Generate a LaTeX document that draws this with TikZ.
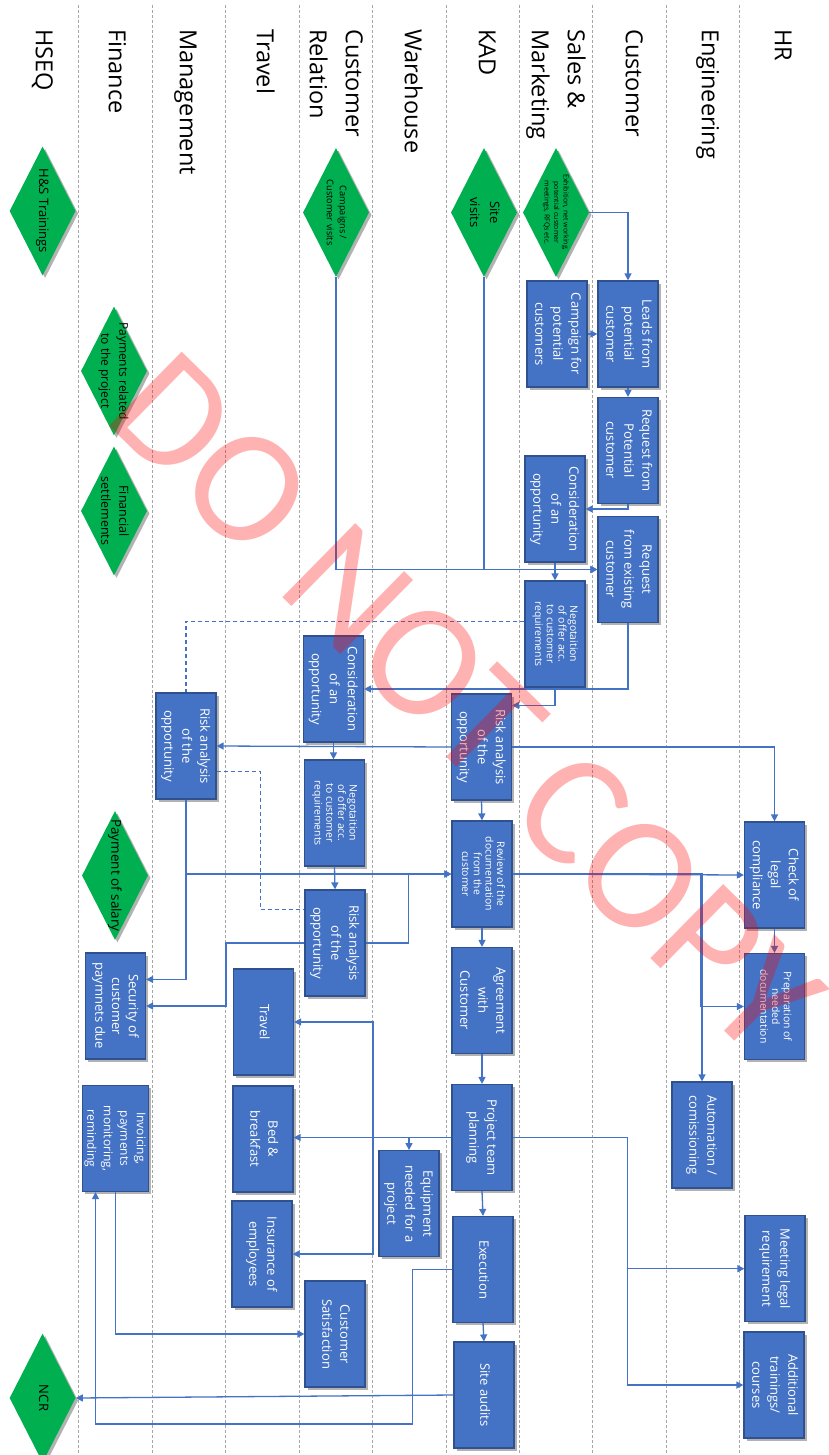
\documentclass[tikz,border=0pt]{standalone}
\usepackage{fontspec}
\setmainfont{Open Sans}
\newfontfamily\wmfont{Carlito}
\usepackage{graphicx}
\usetikzlibrary{shapes.geometric,arrows.meta,shadows,calc}
\definecolor{boxblue}{HTML}{4472C4}
\definecolor{boxedge}{HTML}{2F528F}
\definecolor{dgreen}{HTML}{00B050}
\definecolor{lanegray}{HTML}{A6A6A6}
\newcommand\vt[1]{\rotatebox{-90}{\begin{tabular}{@{}c@{}}#1\end{tabular}}}
\newcommand\vtl[1]{\rotatebox{-90}{\begin{tabular}{@{}l@{}}#1\end{tabular}}}
\begin{document}
\begin{tikzpicture}[x=1pt,y=-1pt,
  bx/.style={draw=boxedge, line width=1.2pt, fill=boxblue, text=white, minimum width=60pt, minimum height=106pt, inner sep=0pt, font=\fontsize{13}{18}\selectfont, drop shadow={shadow xshift=2.5pt,shadow yshift=-2.5pt,fill=black,opacity=0.3}},
  bxs/.style={bx, font=\fontsize{10.4}{11.7}\selectfont},
  dm/.style={diamond, fill=dgreen, minimum width=66pt, minimum height=129pt, inner sep=0pt, drop shadow={shadow xshift=2.5pt,shadow yshift=-2.5pt,fill=black,opacity=0.3}},
  dmt/.style={text=black, inner sep=0pt},
  hdr/.style={anchor=north, inner sep=0pt, font=\fontsize{23.5}{36}\selectfont, text=black},
  lane/.style={lanegray, dash pattern=on 3pt off 2pt, line width=0.7pt},
  arr/.style={boxblue, line width=1.3pt, -{Triangle[length=7pt,width=7pt]}},
  dsh/.style={boxblue, line width=1.2pt, dash pattern=on 4pt off 3pt},
]
\fill[white] (0,0) rectangle (829,1455);
\useasboundingbox (0,0) rectangle (829,1455);
\foreach \x in {78.7,152,225.3,299,372.3,446,519.3,592.7,666,739.3}
  \draw[lane] (\x,5) -- (\x,1455);

% lane headers
\node[hdr] (hHR) at (782,29) {\vtl{HR}};
\node[hdr] (hEng) at (709,29) {\vtl{Engineering}};
\node[hdr] (hCust) at (633,29) {\vtl{Customer}};
\node[hdr] (hSM) at (557,29) {\vtl{Sales \&\\Marketing}};
\node[hdr] (hKAD) at (486,29) {\vtl{KAD}};
\node[hdr] (hWH) at (412,29) {\vtl{Warehouse}};
\node[hdr] (hCR) at (335,29) {\vtl{Customer\\Relation}};
\node[hdr] (hTr) at (264,29) {\vtl{Travel}};
\node[hdr] (hMg) at (187,29) {\vtl{Management}};
\node[hdr] (hFi) at (116,29) {\vtl{Finance}};
\node[hdr] (hHS) at (43,29) {\vtl{HSEQ}};

% diamonds
\node[dm] (exh) at (556,212.5) {};
\node[dmt, font=\fontsize{7}{9.5}\selectfont] (exhT) at (exh.center) {\vt{Exhibition, net working,\\potential customer\\meetings, RFQs etc.}};
\node[dm] (site) at (484,212.5) {};
\node[dmt, font=\fontsize{13}{20}\selectfont] (siteT) at (site.center) {\vt{Site\\visits}};
\node[dm] (crd) at (336,212.5) {};
\node[dmt, font=\fontsize{9.2}{13}\selectfont] (crdT) at (crd.center) {\vt{Campaigns /\\Customer visits}};
\node[dm] (hs) at (42.6,211) {};
\node[dmt, font=\fontsize{13}{18}\selectfont] (hsT) at (hs.center) {\vt{H\&S Trainings}};
\node[dm] (pay) at (114,371) {};
\node[dmt, font=\fontsize{12}{18}\selectfont] (payT) at (pay.center) {\vt{Payments related\\to the project}};
\node[dm] (fin) at (114,511) {};
\node[dmt, font=\fontsize{12.5}{18}\selectfont] (finT) at (fin.center) {\vt{Financial\\settlements}};
\node[dm] (sal) at (115,875.5) {};
\node[dmt, font=\fontsize{13.5}{18}\selectfont] (salT) at (sal.center) {\vt{Payment of salary}};
\node[dm] (ncr) at (42.6,1398) {};
\node[dmt, font=\fontsize{13}{18}\selectfont] (ncrT) at (ncr.center) {\vt{NCR}};

% boxes
\node[bx] (leads) at (628,334) {\vt{Leads from\\potential\\customer}};
\node[bx] (camp) at (557,334) {\vt{Campaign for\\potential\\customers}};
\node[bx] (reqpot) at (628,450.5) {\vt{Request from\\Potential\\customer}};
\node[bx] (cons1) at (555,509) {\vt{Consideration\\of an\\opportunity}};
\node[bx] (reqex) at (628,569.5) {\vt{Request\\from existing\\customer}};
\node[bxs] (neg1) at (555,634) {\vt{Negotaition\\of offer acc.\\to customer\\requirements}};
\node[bx] (cons2) at (333.5,689) {\vt{Consideration\\of an\\opportunity}};
\node[bx] (riskK) at (481.5,747) {\vt{Risk analysis\\of the\\opportunity}};
\node[bx] (riskM) at (186,746) {\vt{Risk analysis\\of the\\opportunity}};
\node[bxs] (neg2) at (334.5,813) {\vt{Negotaition\\of offer acc.\\to customer\\requirements}};
\node[bxs] (review) at (482,874) {\vt{Review of the\\documentation\\from the\\customer}};
\node[bx] (check) at (774.5,875) {\vt{Check of\\legal\\compliance}};
\node[bxs] (prep) at (774.5,1006.5) {\vt{Preparation of\\needed\\documentation}};
\node[bx] (agree) at (482,1000.5) {\vt{Agreement\\with\\Customer}};
\node[bx] (proj) at (482,1137.5) {\vt{Project team\\planning}};
\node[bx] (auto) at (702,1135) {\vt{Automation /\\comissioning}};
\node[bx] (exec) at (483,1269.5) {\vt{Execution}};
\node[bx] (audit) at (484,1395) {\vt{Site audits}};
\node[bx] (meet) at (775,1268.7) {\vt{Meeting legal\\requirement}};
\node[bx] (add) at (774,1385) {\vt{Additional\\trainings/\\courses}};
\node[bx] (riskC) at (335,943) {\vt{Risk analysis\\of the\\opportunity}};
\node[bx, font=\fontsize{13}{16.7}\selectfont] (sec) at (115.5,1006) {\vt{Security of\\customer\\paymnets due}};
\node[bx] (travel) at (263.5,1022) {\vt{Travel}};
\node[bx, font=\fontsize{12}{16.5}\selectfont] (inv) at (115.5,1138.5) {\vt{Invoicing,\\payments\\monitoring,\\reminding}};
\node[bx] (bnb) at (263,1139) {\vt{Bed \&\\breakfast}};
\node[bx] (equip) at (409,1203.7) {\vt{Equipment\\needed for a\\project}};
\node[bx] (ins) at (262,1254) {\vt{Insurance of\\employees}};
\node[bx] (csat) at (335,1334) {\vt{Customer\\Satisfaction}};

% connectors
\draw[arr] (exh.east) -| (leads.north);
\draw[arr] (camp.east) -- (leads.west);
\draw[arr] (leads.south) -- (reqpot.north);
\draw[arr] (reqpot.south) |- (cons1.east);
\draw[arr] (site.south) |- (reqex.west);
\draw[arr] (crd.south) |- (reqex.west);
\draw[arr] (cons1.south) -- (neg1.north);
\draw[arr] (reqex.south) |- (cons2.east);
\draw[arr] (neg1.south) |- ($(riskK.north east)+(0,12)$);
\draw[dsh] ($(neg1.north west)+(0,41)$) -| (riskM.north);
\draw[arr] (riskK.west) -- (riskM.east);
\draw[arr] (riskK.east) -| (check.north);
\draw[arr] (cons2.south) -- (cons2.south |- neg2.north);
\draw[arr] (riskK.south) -- (review.north);
\draw[dsh] ($(riskM.north east)+(0,79)$) -| ($(riskC.north west)+(-44,20)$) -- ($(riskC.north west)+(0,20)$);
\draw[arr] (neg2.south) -- (riskC.north);
\draw[arr] (riskM.south) |- (review.west);
\draw[arr] (riskM.south) |- ($(sec.north east)+(0,27)$);
\draw[arr] (review.east) -- (check.west);
\draw[arr] (review.east) -| ($(prep.west)+(-43,0)$) -- (prep.west);
\draw[arr] (review.east) -| (auto.north);
\draw[arr] (check.south) -- (prep.north);
\draw[arr] (riskC.east) -| ($(review.west)+(-43,0)$) -- (review.west);
\draw[arr] (riskC.west) -| ($(sec.east)+(80,0)$) -- (sec.east);
\draw[arr] (review.south) -- (agree.north);
\draw[arr] (agree.south) -- (proj.north);
\draw[arr] (proj.west) -- (proj.west -| bnb.east);
\draw[arr] (proj.west) -| (equip.north);
\draw[arr] (proj.west) -| ($(travel.east)+(79,0)$) -- (travel.east);
\draw[arr] (proj.west) -| ($(ins.east)+(80.5,0)$) -- (ins.east);
\draw[arr] (proj.east) -| ($(meet.west)+(-117,0)$) -- (meet.west);
\draw[arr] (proj.east) -| ($(add.west)+(-116,0)$) -- (add.west);
\draw[arr] (proj.south) -- (exec.north);
\draw[arr] (exec.south) -- (audit.north);
\coordinate (b1) at (412.3,1424);
\draw[arr] (exec.west) -| (b1) -| ($(inv.south)+(-20,0)$);
\draw[arr] (audit.west) -- (ncr.east);
\draw[arr] (inv.south) |- (csat.west);

% watermark
\node[rotate=-44.5, text=red, text opacity=0.3, inner sep=0pt, font=\wmfont\fontsize{162}{162}\selectfont] (wm) at (466,704) {DO NOT COPY};
\end{tikzpicture}
\end{document}
